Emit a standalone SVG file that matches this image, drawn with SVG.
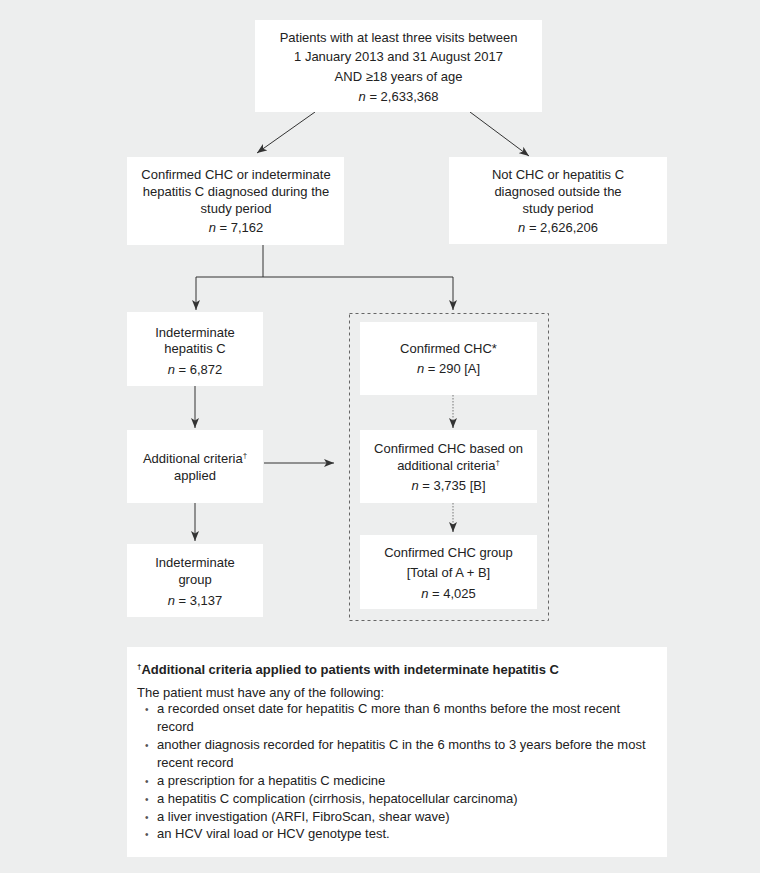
<svg xmlns="http://www.w3.org/2000/svg" width="760" height="873" viewBox="0 0 760 873">
<defs>
<marker id="ah" viewBox="0 0 10 8" refX="10" refY="4" markerWidth="10" markerHeight="8" markerUnits="userSpaceOnUse" orient="auto">
<path d="M0,0 L10,4 L0,8 L2.5,4 z" fill="#333"/>
</marker>
<style>
.bx{fill:#fff}
.t{font-family:"Liberation Sans",Arial,sans-serif;font-size:13px;fill:#222;text-anchor:middle}
.f{font-family:"Liberation Sans",Arial,sans-serif;font-size:13px;fill:#222}
.bu{font-family:"Liberation Sans",Arial,sans-serif;font-size:10px;fill:#555}
.b{font-weight:bold}
.i{font-style:italic}
.c{stroke:#333;stroke-width:1;fill:none}
.d{stroke:#777;stroke-width:1;fill:none;stroke-dasharray:1.5 1.5}
.sup{font-size:8px}
</style>
</defs>
<rect width="760" height="873" fill="#edeeee"/>
<g id="connectors">
<path class="c" d="M315,112 L257,153" marker-end="url(#ah)"/>
<path class="c" d="M470,112 L529,156" marker-end="url(#ah)"/>
<path class="c" d="M263,245 V277 M196,277 H453"/>
<path class="c" d="M196,277 V310" marker-end="url(#ah)"/>
<path class="c" d="M453,277 V310" marker-end="url(#ah)"/>
<path class="c" d="M195,386 V428" marker-end="url(#ah)"/>
<path class="c" d="M195,503 V541" marker-end="url(#ah)"/>
<path class="c" d="M264,463 H334" marker-end="url(#ah)"/>
<path class="d" d="M453,395 V420"/>
<path class="c" d="M453,420 V428" marker-end="url(#ah)"/>
<path class="d" d="M453,503 V524"/>
<path class="c" d="M453,524 V532" marker-end="url(#ah)"/>
</g>
<g id="n-top">
<rect class="bx" x="255" y="20" width="287" height="92"/>
<text class="t" x="398.5" y="42">Patients with at least three visits between</text>
<text class="t" x="398.5" y="61">1 January 2013 and 31 August 2017</text>
<text class="t" x="398.5" y="81">AND ≥18 years of age</text>
<text class="t" x="398.5" y="101"><tspan class="i">n</tspan> = 2,633,368</text>
</g>
<g id="n-confirmed-or-indeterminate">
<rect class="bx" x="127" y="157" width="217" height="88"/>
<text class="t" x="236" y="179">Confirmed CHC or indeterminate</text>
<text class="t" x="236" y="196">hepatitis C diagnosed during the</text>
<text class="t" x="236" y="213">study period</text>
<text class="t" x="236" y="232"><tspan class="i">n</tspan> = 7,162</text>
</g>
<g id="n-not-chc">
<rect class="bx" x="449" y="157" width="218" height="87"/>
<text class="t" x="558" y="179">Not CHC or hepatitis C</text>
<text class="t" x="558" y="196">diagnosed outside the</text>
<text class="t" x="558" y="213">study period</text>
<text class="t" x="558" y="232"><tspan class="i">n</tspan> = 2,626,206</text>
</g>
<g id="n-indeterminate">
<rect class="bx" x="127" y="312" width="136" height="74"/>
<text class="t" x="195" y="337">Indeterminate</text>
<text class="t" x="195" y="353">hepatitis C</text>
<text class="t" x="195" y="374"><tspan class="i">n</tspan> = 6,872</text>
</g>
<g id="n-additional">
<rect class="bx" x="127" y="430" width="136" height="73"/>
<text class="t" x="195" y="463">Additional criteria<tspan class="sup" dy="-5">†</tspan></text>
<text class="t" x="195" y="480">applied</text>
</g>
<g id="n-indeterminate-group">
<rect class="bx" x="127" y="544" width="136" height="73"/>
<text class="t" x="195" y="567">Indeterminate</text>
<text class="t" x="195" y="584">group</text>
<text class="t" x="195" y="605"><tspan class="i">n</tspan> = 3,137</text>
</g>
<g id="n-confirmed-group-frame">
<rect x="349.5" y="313.5" width="199" height="307" fill="none" stroke="#666" stroke-width="1" stroke-dasharray="3 3"/>
</g>
<g id="n-confirmed-a">
<rect class="bx" x="360" y="322" width="177" height="73"/>
<text class="t" x="448.5" y="353">Confirmed CHC*</text>
<text class="t" x="448.5" y="373"><tspan class="i">n</tspan> = 290 [A]</text>
</g>
<g id="n-confirmed-b">
<rect class="bx" x="360" y="430" width="177" height="73"/>
<text class="t" x="448.5" y="453">Confirmed CHC based on</text>
<text class="t" x="448.5" y="470">additional criteria<tspan class="sup" dy="-5">†</tspan></text>
<text class="t" x="448.5" y="490"><tspan class="i">n</tspan> = 3,735 [B]</text>
</g>
<g id="n-confirmed-total">
<rect class="bx" x="360" y="535" width="177" height="74"/>
<text class="t" x="448.5" y="557">Confirmed CHC group</text>
<text class="t" x="448.5" y="577">[Total of A + B]</text>
<text class="t" x="448.5" y="598"><tspan class="i">n</tspan> = 4,025</text>
</g>
<g id="n-footnote">
<rect class="bx" x="127" y="647" width="540" height="210"/>
<text class="f b" x="137" y="674"><tspan class="sup" dy="-5">†</tspan><tspan dy="5">Additional criteria applied to patients with indeterminate hepatitis C</tspan></text>
<text class="f" x="137" y="697">The patient must have any of the following:</text>
<text class="bu" x="145" y="713">•</text>
<text class="f" x="157" y="713">a recorded onset date for hepatitis C more than 6 months before the most recent</text>
<text class="f" x="157" y="731">record</text>
<text class="bu" x="145" y="749">•</text>
<text class="f" x="157" y="749">another diagnosis recorded for hepatitis C in the 6 months to 3 years before the most</text>
<text class="f" x="157" y="767">recent record</text>
<text class="bu" x="145" y="785">•</text>
<text class="f" x="157" y="785">a prescription for a hepatitis C medicine</text>
<text class="bu" x="145" y="803">•</text>
<text class="f" x="157" y="803">a hepatitis C complication (cirrhosis, hepatocellular carcinoma)</text>
<text class="bu" x="145" y="821">•</text>
<text class="f" x="157" y="821">a liver investigation (ARFI, FibroScan, shear wave)</text>
<text class="bu" x="145" y="838">•</text>
<text class="f" x="157" y="838">an HCV viral load or HCV genotype test.</text>
</g>
</svg>
